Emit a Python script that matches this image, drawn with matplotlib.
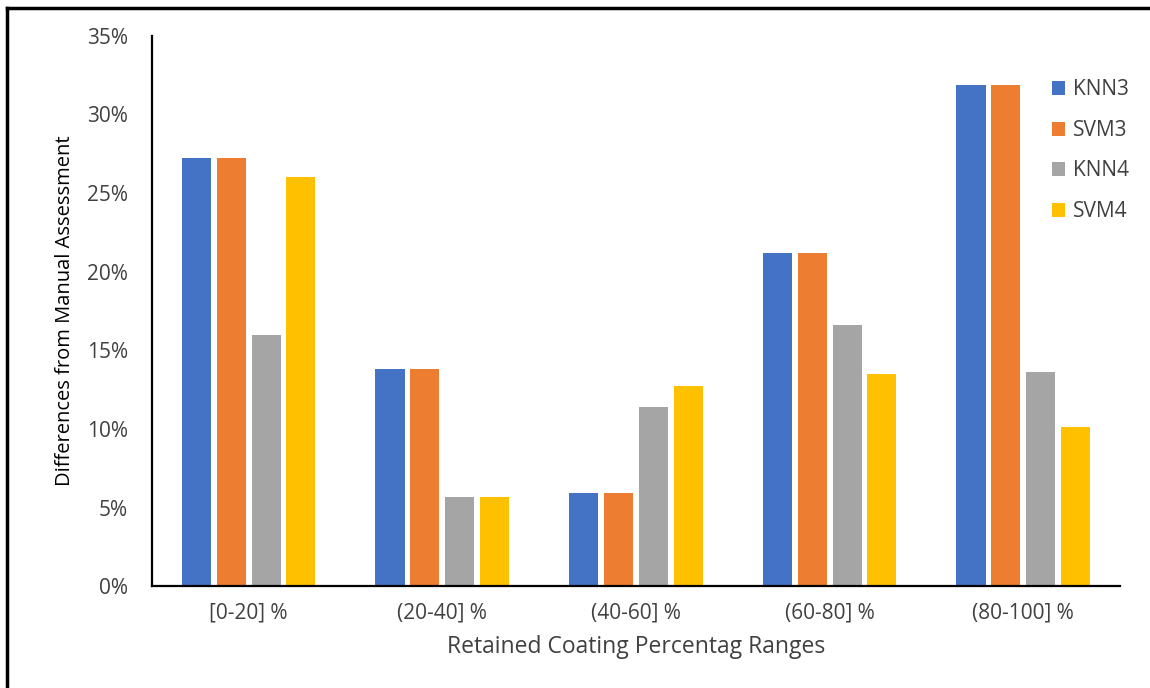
import numpy as np
import matplotlib.pyplot as plt
from matplotlib.lines import Line2D
from matplotlib.ticker import FuncFormatter

plt.rcParams['font.family'] = ['Open Sans', 'DejaVu Sans']

# Data
categories = ['[0-20] %', '(20-40] %', '(40-60] %', '(60-80] %', '(80-100] %']
knn3 = [27.2, 13.8, 5.9, 21.2, 31.9]
svm3 = [27.2, 13.8, 5.9, 21.2, 31.9]
knn4 = [16.0, 5.7, 11.4, 16.6, 13.6]
svm4 = [26.0, 5.7, 12.7, 13.5, 10.1]
series = ['KNN3', 'SVM3', 'KNN4', 'SVM4']
colors = ['#4472C4', '#ED7D31', '#A5A5A5', '#FFC000']

fig = plt.figure(figsize=(11.5, 6.88), dpi=100)
ax = fig.add_axes([0.132, 0.148, 0.842, 0.8])

x = np.arange(len(categories))
pitch = 0.18
width = 0.15
for i, (vals, name, c) in enumerate(zip([knn3, svm3, knn4, svm4], series, colors)):
    ax.bar(x + (i - 1.5) * pitch, vals, width, color=c, label=name)

ax.set_xlim(-0.5, len(categories) - 0.5)
ax.set_ylim(0, 35)
ax.set_yticks(np.arange(0, 36, 5))
ax.yaxis.set_major_formatter(FuncFormatter(lambda v, p: f'{v:.0f}%'))
ax.set_xticks(x)
ax.set_xticklabels(categories)
ax.tick_params(length=0, colors='#404040')
ax.tick_params(axis='x', pad=12, labelsize=15)
ax.tick_params(axis='y', pad=17, labelsize=15)

for s in ['top', 'right']:
    ax.spines[s].set_visible(False)
for s in ['left', 'bottom']:
    ax.spines[s].set_linewidth(1.6)
    ax.spines[s].set_color('black')

ax.set_xlabel('Retained Coating Percentag Ranges', fontsize=16.5, color='#404040', labelpad=8)
ax.set_ylabel('Differences from Manual Assessment', fontsize=14.5, color='black', labelpad=9)

ax.legend(loc='upper left', bbox_to_anchor=(0.91, 0.955), frameon=False, fontsize=15,
          handlelength=0.65, handleheight=0.65, handletextpad=0.35, labelspacing=0.94,
          labelcolor='#404040')

# outer frame (left and top edges)
fig.add_artist(Line2D([0.0065, 0.0065], [0, 0.988], transform=fig.transFigure, color='black', lw=2.5))
fig.add_artist(Line2D([0.0065, 1], [0.988, 0.988], transform=fig.transFigure, color='black', lw=2.5))

fig.savefig('out.png', dpi=100)
